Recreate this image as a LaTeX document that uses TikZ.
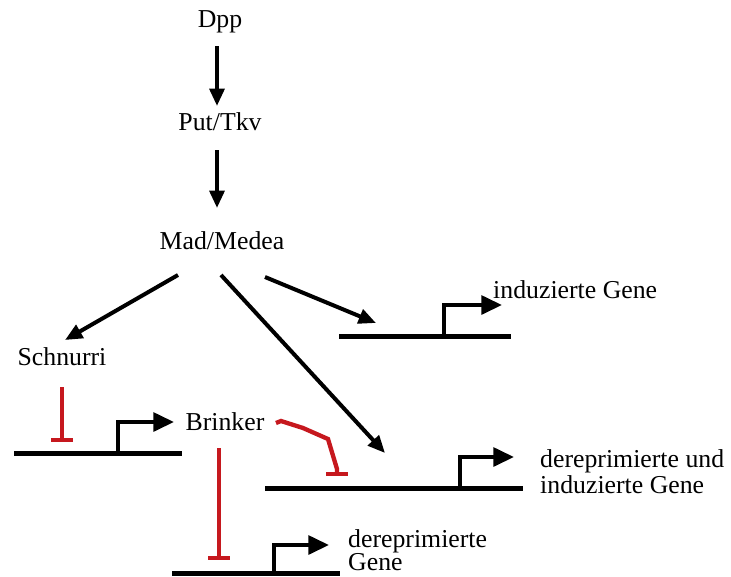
\documentclass[tikz,border=0pt]{standalone}
\usepackage{fontspec}
\setmainfont{Liberation Serif}
\usetikzlibrary{arrows.meta}
\definecolor{inhred}{RGB}{198,24,30}
\begin{document}
\begin{tikzpicture}[
            x=0.03cm, y=-0.03cm,
            protein/.style={inner sep=0pt, font=\fontsize{22}{26}\selectfont},
            genelabel/.style={inner sep=0pt, anchor=west, align=left, font=\fontsize{22}{22}\selectfont},
            act/.style={-{Triangle[length=5.2mm, width=4.4mm]}, line width=1.2mm},
            inhib/.style={-{Bar[width=6.4mm]}, draw=inhred, line width=1.3mm},
            dna/.style={line width=1.5mm},
            tss/.style={-{Triangle[length=6.2mm, width=5.6mm]}, line width=1.2mm}
        ]
        \useasboundingbox (0,0) rectangle (731,576);

        % Signal chain
        \node[protein] (dpp) at (220,22) {Dpp};
        \node[protein] (put) at (220,122) {Put/Tkv};
        \node[protein] (mad) at (222,241) {Mad/Medea};
        \node[protein] (schnurri) at (62,357) {Schnurri};
        \node[protein] (brinker) at (225,422) {Brinker};

        \draw[act] ([shift={(-3,24)}]dpp.center) -- ([shift={(-3,-16)}]put.center);
        \draw[act] ([shift={(-3,28)}]put.center) -- ([shift={(-5,-33)}]mad.center);

        % Genes
        \coordinate (g1) at (376,323);
        \draw[dna] (339,336) -- (511,336);
        \draw[tss] (444,338) -- (444,305) -- (502,305);
        \node[genelabel] (ind) at (493,290) {induzierte Gene};

        \draw[dna] (14,453) -- (182,453);
        \draw[tss] (118,455) -- (118,422) -- (174,422);

        \coordinate (g3) at (385,453);
        \coordinate (g3b) at (337,476);
        \draw[dna] (265,488) -- (523,488);
        \draw[tss] (460,490) -- (460,457) -- (514,457);
        \node[genelabel] (derind) at (540,472) {dereprimierte und\\induzierte Gene};

        \coordinate (g4) at (219,560);
        \draw[dna] (172,573) -- (340,573);
        \draw[tss] (274,575) -- (274,545) -- (329,545);
        \node[genelabel, font=\fontsize{22}{20}\selectfont] (der) at (348,550) {dereprimierte\\Gene};

        % Activation
        \draw[act] ([shift={(-44,34)}]mad.center) -- ([shift={(3,-17)}]schnurri.center);
        \draw[act] ([shift={(-1,34)}]mad.center) -- (g3);
        \draw[act] ([shift={(43,36)}]mad.center) -- (g1);

        % Repression
        \draw[inhib] ([shift={(0,30)}]schnurri.center) -- (62,442);
        \draw[inhib] ([shift={(-6,26)}]brinker.center) -- (g4);
        \draw[inhib] ([shift={(51,1)}]brinker.center) -- (281,421) -- (303,428) -- (328,439) -- (337,469) -- (g3b);

    \end{tikzpicture}
\end{document}
